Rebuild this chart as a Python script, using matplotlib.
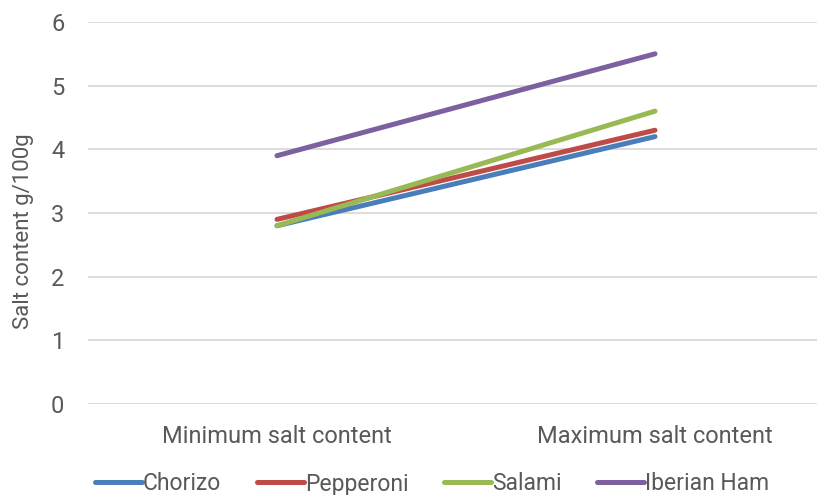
import matplotlib.pyplot as plt

categories = ['Minimum salt content', 'Maximum salt content']
chorizo = [2.8, 4.2]
pepperoni = [2.9, 4.3]
salami = [2.8, 4.6]
iberian_ham = [3.9, 5.5]

series = [('Chorizo', chorizo, '#4a7ebb'),
          ('Pepperoni', pepperoni, '#be4b48'),
          ('Salami', salami, '#98b954'),
          ('Iberian Ham', iberian_ham, '#7d60a0')]

W, H = 817, 495
fig = plt.figure(figsize=(W / 100., H / 100.), dpi=100)

# Plot area runs past the right edge of the canvas.
left, right, top, bottom = 88, 844, 22, 404
ax = fig.add_axes([left / W, 1 - bottom / H, (right - left) / W, (bottom - top) / H])

x = [0, 1]
for name, vals, col in series:
    ax.plot(x, vals, color=col, lw=3.6, solid_capstyle='round', label=name, zorder=3)

ax.set_xlim(-0.5, 1.5)
ax.set_ylim(0, 6)
ax.set_yticks(range(0, 7))
ax.set_xticks(x)
ax.set_xticklabels(categories)
ax.grid(axis='y', color='#d9d9d9', lw=1.3, zorder=0)
for s in ax.spines.values():
    s.set_visible(False)
ax.tick_params(length=0, colors='#595959', labelsize=17)
ax.tick_params(axis='x', pad=15)
ax.tick_params(axis='y', pad=17)
for t in ax.get_xticklabels() + ax.get_yticklabels():
    t.set_fontfamily('Roboto')

ax.set_ylabel('Salt content g/100g', fontsize=16, color='#595959', family='Roboto')
ax.yaxis.set_label_coords(-0.071, 0.453)

leg = fig.legend(loc='center', bbox_to_anchor=(432 / W, 1 - 484 / H), ncol=4,
                 frameon=False, handlelength=2.05, handletextpad=0.05,
                 columnspacing=1.55, prop={'family': 'Roboto', 'size': 16.5})
for line in leg.get_lines():
    line.set_linewidth(3.6)
for t in leg.get_texts():
    t.set_color('#595959')

fig.savefig('out.png', dpi=100)
